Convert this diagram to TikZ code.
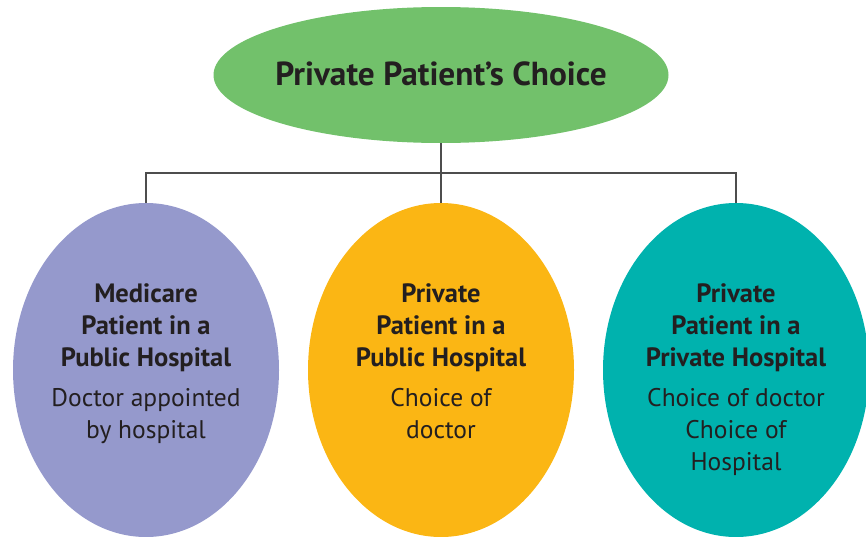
\documentclass[tikz,border=0pt]{standalone}
\usepackage{fontspec}
\setmainfont{PT Sans}
\usetikzlibrary{shapes.geometric}
\definecolor{topgreen}{HTML}{72C16B}
\definecolor{lilac}{HTML}{9599CC}
\definecolor{amber}{HTML}{FBB614}
\definecolor{teal}{HTML}{00B2AE}
\definecolor{ink}{HTML}{231F20}
\definecolor{wire}{HTML}{4D4D4D}
\begin{document}
\begin{tikzpicture}[x=1pt,y=-1pt,
  blob/.style={ellipse,draw=none,inner sep=0pt},
  child/.style={blob,minimum width=266pt,minimum height=334pt},
  heading/.style={font=\fontsize{26.5}{32}\selectfont\bfseries,text=ink,align=center,inner sep=0pt},
  detail/.style={font=\fontsize{25.5}{32}\selectfont,text=ink,align=center,inner sep=0pt},
  link/.style={draw=wire,line width=1.4pt}]
\useasboundingbox (0,0) rectangle (866,536);
% parent and three children
\node[blob,fill=topgreen,minimum width=455pt,minimum height=136pt] (top) at (441,75) {};
\node[font=\fontsize{33.3}{38}\selectfont\bfseries,text=ink,inner sep=0pt] (toptext) at (441,74) {Private Patient’s Choice};
\node[child,fill=lilac] (left) at (146,370) {};
\node[child,fill=amber] (mid) at (441,370) {};
\node[child,fill=teal] (right) at (736,370) {};
% text inside each child
\node[heading,anchor=north] (lh) at (146,283) {Medicare\\Patient in a\\Public Hospital};
\node[detail,anchor=north] (ld) at (146,388) {Doctor appointed\\by hospital};
\node[heading,anchor=north] (mh) at (441,283) {Private\\Patient in a\\Public Hospital};
\node[detail,anchor=north] (md) at (441,388) {Choice of\\doctor};
\node[heading,anchor=north] (rh) at (736,283) {Private\\Patient in a\\Private Hospital};
\node[detail,anchor=north] (rd) at (736,388) {Choice of doctor\\Choice of\\Hospital};
% connectors
\coordinate (bus) at (441,173);
\draw[link] (top.south) -- (bus);
\draw[link] (bus) -| (left.north);
\draw[link] (bus) -| (right.north);
\draw[link] (bus) -- (mid.north);
\end{tikzpicture}
\end{document}
